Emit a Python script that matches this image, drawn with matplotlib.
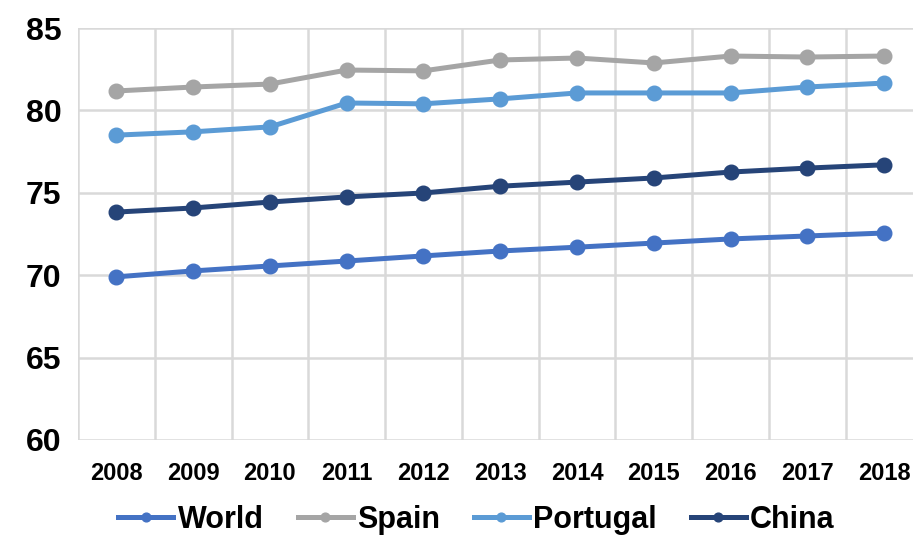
from matplotlib import pyplot as plt
import matplotlib

matplotlib.rcParams['font.family'] = ['Liberation Sans', 'DejaVu Sans']
matplotlib.rcParams['font.weight'] = 'bold'

years = ["2008", "2009", "2010", "2011", "2012", "2013", "2014", "2015", "2016", "2017", "2018"]
world = [69.9, 70.26, 70.56, 70.86, 71.17, 71.47, 71.7, 71.95, 72.2, 72.38, 72.56]
spain = [81.18, 81.42, 81.6, 82.45, 82.4, 83.06, 83.18, 82.88, 83.3, 83.24, 83.3]
portugal = [78.5, 78.7, 79.0, 80.45, 80.4, 80.7, 81.06, 81.06, 81.06, 81.42, 81.66]
china = [73.83, 74.08, 74.44, 74.75, 74.99, 75.4, 75.65, 75.9, 76.26, 76.5, 76.7]

fig = plt.figure(figsize=(9.13, 5.43), dpi=100)
ax = fig.add_axes([0.0854, 0.1897, 0.925, 0.7587])

x = list(range(len(years)))
series = [("World", world, "#4472C4"), ("Spain", spain, "#A5A5A5"),
          ("Portugal", portugal, "#5B9BD5"), ("China", china, "#264478")]
for name, vals, col in series:
    ax.plot(x, vals, color=col, linewidth=3.6, marker='o', markersize=10.5, label=name, zorder=3)

ax.set_xlim(-0.5, len(years) - 0.5)
ax.set_ylim(60, 85)
ax.set_yticks([60, 65, 70, 75, 80, 85])
ax.set_xticks(x)
ax.set_xticklabels(years)
ax.set_xticks([i - 0.5 for i in range(len(years) + 1)], minor=True)
ax.grid(True, which='major', axis='y', color='#D9D9D9', linewidth=1.8)
ax.grid(True, which='minor', axis='x', color='#D9D9D9', linewidth=1.8)
ax.tick_params(axis='x', which='both', length=0, labelsize=17, pad=16)
ax.tick_params(axis='y', length=0, labelsize=23, pad=12)
for s in ax.spines.values():
    s.set_visible(False)

fig.legend(loc='center', bbox_to_anchor=(0.522, 0.042), ncol=4, frameon=False,
           fontsize=22, handlelength=1.8, handletextpad=0.15, columnspacing=1.1,
           markerscale=0.6)

fig.savefig("out.png", dpi=100)
